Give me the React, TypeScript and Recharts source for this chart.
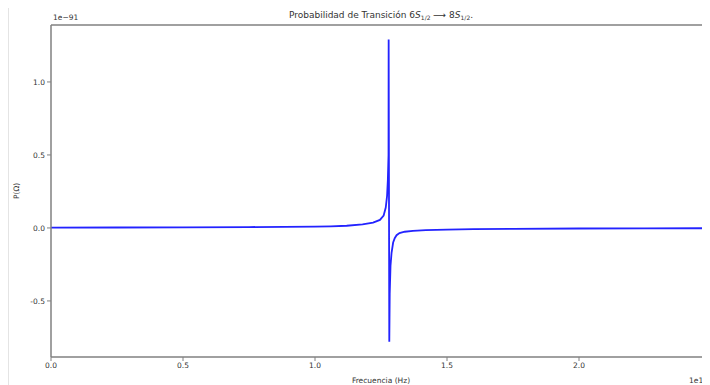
import React from "react";
import { LineChart, Line, XAxis, YAxis, ReferenceLine, Label } from "recharts";

// x in units of 1e13 Hz, y in units of 1e-91
const freq = [0, 0.25, 0.5, 0.75, 1.0, 1.06, 1.12, 1.18, 1.22, 1.246, 1.26, 1.268, 1.273, 1.276, 1.2785, 1.279, 1.2814, 1.283, 1.286, 1.29, 1.296, 1.302, 1.309, 1.32, 1.34, 1.371, 1.42, 1.5, 1.6, 1.75, 2.0, 2.25, 2.5];
const prob = [0.002, 0.003, 0.004, 0.006, 0.009, 0.011, 0.015, 0.024, 0.037, 0.055, 0.085, 0.14, 0.22, 0.33, 0.5, 1.29, -0.78, -0.45, -0.26, -0.17, -0.1, -0.07, -0.05, -0.035, -0.026, -0.02, -0.015, -0.011, -0.008, -0.006, -0.004, -0.003, -0.002];
const xTicks = [0, 0.5, 1.0, 1.5, 2.0, 2.5];
const yTicks = [-0.5, 0, 0.5, 1.0];

const data = freq.map((f, i) => ({ f, p: prob[i] }));

const FONT = "'DejaVu Sans', sans-serif";
const TXT = "#333";
const AXIS = "#808080";

const TitleLayer = () => (
  <text x={373} y={10} textAnchor="middle" fontFamily={FONT} fontSize={9} fill={TXT}>
    <tspan>Probabilidad de Transición 6</tspan>
    <tspan fontStyle="italic">S</tspan>
    <tspan fontSize={6} dy={2}>1/2</tspan>
    <tspan dy={-2}> ⟶ 8</tspan>
    <tspan fontStyle="italic">S</tspan>
    <tspan fontSize={6} dy={2}>1/2</tspan>
    <tspan dy={-2}>.</tspan>
  </text>
);

export default function App() {
  return (
    <div style={{ position: "relative", width: 702, height: 377, overflow: "hidden" }}>
      <div style={{ position: "absolute", left: 0, top: -1, width: 702, height: 378, borderTop: "1px solid #e4e4e4", borderLeft: "1px solid #e4e4e4", boxSizing: "border-box" }} />
      <LineChart
        width={720}
        height={377}
        data={data}
        margin={{ top: 17, right: 17, bottom: 8, left: 8 }}
      >
        <XAxis
          dataKey="f"
          type="number"
          domain={[0, 2.5]}
          ticks={xTicks}
          interval={0}
          tickFormatter={(v: number) => v.toFixed(1)}
          height={20}
          tickSize={4}
          tickLine={{ stroke: AXIS }}
          axisLine={{ stroke: AXIS, strokeWidth: 1.5 }}
          tick={{ fontFamily: FONT, fontSize: 7.5, fill: TXT }}
          allowDataOverflow
        >
          <Label value="Frecuencia (Hz)" position="insideBottom" offset={-6} style={{ fontFamily: FONT, fontSize: 7.5, fill: TXT }} />
        </XAxis>
        <YAxis
          dataKey="p"
          type="number"
          domain={[-0.884, 1.39]}
          ticks={yTicks}
          interval={0}
          tickFormatter={(v: number) => v.toFixed(1)}
          width={35}
          tickSize={4}
          tickLine={{ stroke: AXIS }}
          axisLine={{ stroke: AXIS, strokeWidth: 1.5 }}
          tick={{ fontFamily: FONT, fontSize: 7.5, fill: TXT }}
          allowDataOverflow
        >
          <Label value="P(Ω)" angle={-90} position="insideLeft" offset={0} style={{ fontFamily: FONT, fontSize: 7.5, fill: TXT, textAnchor: "middle" }} />
        </YAxis>
        <ReferenceLine y={1.39} stroke={AXIS} strokeWidth={1.5} />
        <ReferenceLine x={2.5} stroke={AXIS} strokeWidth={1.5} />
        <Line
          type="linear"
          dataKey="p"
          stroke="#2323ff"
          strokeWidth={1.8}
          dot={false}
          isAnimationActive={false}
        />
        <text x={45} y={12} fontFamily={FONT} fontSize={7.5} fill={TXT}>1e−91</text>
        <text x={700} y={375} textAnchor="end" fontFamily={FONT} fontSize={7.5} fill={TXT}>1e13</text>
        <TitleLayer />
      </LineChart>
    </div>
  );
}
